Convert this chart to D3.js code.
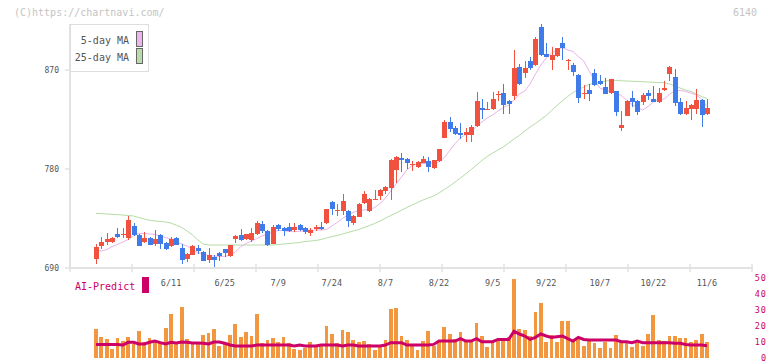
<!DOCTYPE html>
<html>
<head>
<meta charset="utf-8">
<script src="https://cdn.jsdelivr.net/npm/d3@7"></script>
<style>
  body { margin: 0; background: #fff; }
  svg { display: block; }
  text { font-family: 'DejaVu Sans Mono', monospace; }
</style>
</head>
<body>
<div id="chart"></div>
<script>
// daily prices, 115 sessions (5/22 - 11/6)
const open = [
  698.5, 710, 713.6, 714, 720.7, 719.8, 717.3, 728.2, 719.7, 713.6,
  717.3, 711.8, 719.7, 712.7, 710, 717.3, 708.2, 698.2, 702.1, 708.5,
  704.8, 697, 700.3, 703.6, 707.3, 701.1, 716.4, 720, 716, 715.2,
  720.9, 730, 723.6, 711.8, 729, 726.4, 727.3, 724.5, 729, 726.4,
  721.8, 725.5, 727.3, 730.9, 750.3, 742.3, 742.1, 741.8, 731.2, 736.7,
  749.4, 742.1, 752.5, 755.8, 760, 763, 779, 790, 789, 784.3,
  781.8, 785.5, 787.3, 780.9, 787.3, 808.5, 822.7, 817.3, 813, 810.9,
  810.9, 819.1, 835.5, 834.2, 834.5, 848, 849, 841.8, 846.4, 872.7,
  867.3, 878.2, 874.5, 909, 884.5, 879, 882.7, 894.5, 878.8, 874.5,
  865.5, 848.8, 851.8, 867.3, 860, 854.5, 849, 850.9, 817.3, 828.2,
  844.5, 841.8, 840.9, 849, 843.6, 840.9, 851.8, 866.4, 863.6, 840.9,
  830, 834.5, 834.5, 842.7, 830
];
const high = [
  711.8, 717.9, 721.8, 718, 726.4, 726, 737, 731, 721, 722.7,
  718, 724.5, 721, 714, 718, 718, 711.5, 703.6, 710.6, 711,
  705.8, 708.2, 701.8, 704.5, 707.3, 711.1, 720, 725.5, 721, 726,
  732.7, 732.7, 724.5, 729, 730, 727.3, 731, 731, 730, 727.5,
  726.4, 729, 731.8, 743.6, 751.2, 748.2, 757.3, 742.7, 738.2, 749,
  760, 753.6, 760.9, 761.8, 764.5, 789, 791.8, 795, 790, 787.3,
  787.3, 791.8, 791, 788.5, 798.5, 824.5, 827.3, 819, 821.8, 817.5,
  820, 850, 843.6, 841, 850, 850.9, 857.3, 842.7, 888, 875.5,
  878.2, 881.8, 900, 911.8, 894.5, 890.9, 890, 900, 880, 876.4,
  866.4, 856.4, 857.3, 870.9, 865.5, 862.7, 862, 851, 833, 842.7,
  850.9, 842.7, 848.8, 851.8, 855.5, 853.9, 860, 873.6, 870.9, 844.5,
  841.8, 839, 852.7, 843.6, 843.6
];
const low = [
  693.9, 707.3, 711.2, 712.5, 717, 717, 715.7, 719, 710, 712.5,
  710.5, 710, 707.3, 706.5, 709, 710.5, 693.6, 695.5, 701.5, 702.7,
  696.4, 694.8, 691.2, 696.7, 700, 700.3, 712.5, 715, 715.5, 713.6,
  719.7, 721.8, 710, 711.8, 723.6, 719, 722.7, 722.7, 723.6, 721,
  719.5, 723.6, 725, 730, 738.5, 737.3, 738.2, 727.3, 729, 736,
  748.5, 741, 751.8, 751.8, 757.3, 752, 767.5, 777, 780, 778,
  781, 785.2, 777.3, 780, 786.4, 808.5, 814, 811.1, 807.3, 804.8,
  805, 818.2, 825.5, 833.6, 833.6, 841.8, 830, 830, 842.7, 856.4,
  862.7, 870, 873.6, 882.7, 881.8, 870, 881.8, 879, 870, 864.5,
  840, 843.6, 841.8, 855.5, 856.4, 848.2, 848, 828.5, 814.8, 828,
  836.6, 829.4, 838.2, 842.7, 840.9, 840, 850.9, 860, 837.5, 829.1,
  829.1, 824.5, 830, 818.5, 829.1
];
const close = [
  709, 713.6, 716.6, 717.3, 718.2, 720.5, 733.6, 719.7, 710.3, 717.5,
  711.2, 716.4, 711.8, 707.5, 716.6, 711, 697.6, 702.7, 710, 705.8,
  696.7, 701.5, 697.6, 700.9, 703.6, 711.1, 719, 715.5, 720.9, 721.8,
  730.9, 723.6, 711.1, 727.3, 725.5, 723.6, 723.6, 727.3, 724.5, 722.7,
  724.5, 727.3, 725.5, 743.6, 744, 742.9, 750.9, 732.7, 737.3, 748.2,
  757.3, 752.7, 753, 760.9, 763.6, 788.2, 791, 788.2, 785.5, 784.8,
  786.4, 789, 781.8, 788.2, 798.2, 823, 816.7, 812.1, 811.2, 813.6,
  818.2, 841.8, 833.6, 834.8, 843.6, 848.5, 838.5, 839, 871.8, 857.3,
  871.8, 871.8, 898.2, 883.6, 881.8, 883.6, 890, 890, 879.3, 868.2,
  844.5, 849.2, 848.2, 856.4, 857.3, 848.2, 861.8, 831.8, 820, 841.8,
  840.9, 831.8, 847.3, 846.4, 840.9, 849, 853.6, 872.7, 840, 830,
  835.5, 838.2, 842.7, 829.1, 835.5
];

// moving averages as drawn on the chart
const ma5 = [
  706.4, 705.5, 706.8, 709.5, 711.4, 713.6, 715.9, 719.1, 721.4, 721.4,
  720.9, 720.5, 719.1, 717.7, 716.4, 714.1, 711.8, 710, 706.8, 704.1,
  702.7, 701.4, 700.9, 700.5, 700.3, 701.8, 704.5, 709.5, 712.3, 714.5,
  716.8, 719.1, 720.9, 722.7, 724.1, 724.1, 723.2, 723, 723.2, 724.1,
  724.5, 724.5, 724.5, 725, 728.2, 731.4, 735, 738.2, 740.5, 742.3,
  742.7, 743.2, 745, 748.6, 753.6, 760, 766.4, 772.7, 779.1, 783.2,
  784.5, 785, 785.2, 785.5, 786.4, 790.5, 796.8, 803.2, 808.2, 811.4,
  813.6, 819.1, 822.7, 826.4, 829.1, 832.7, 835.9, 838.2, 842.7, 848.2,
  850.9, 857.3, 866.4, 874.5, 880.9, 885.5, 888.2, 890.5, 888.2, 886.8,
  882.3, 878.2, 869.1, 860.9, 853.6, 851.8, 850.3, 849.1, 846.8, 842.7,
  838.6, 835.9, 833.6, 836.8, 840.9, 842.7, 843.6, 847.7, 851.4, 851.4,
  850.5, 849.1, 847.3, 843.6, 836.8
];
const ma25 = [
  739.7, 739.4, 739.1, 738.8, 738.5, 738.2, 737.7, 737.3, 735.9, 734.5,
  733.4, 732.7, 732.3, 731.8, 730.9, 728.8, 726.8, 723.6, 720, 715.5,
  711.8, 710.9, 710.9, 710.9, 710.9, 710.9, 710.9, 710.9, 710.9, 710.9,
  710.9, 710.9, 710.9, 710.9, 711.4, 711.8, 712.3, 712.7, 713.2, 714.1,
  714.5, 715, 715.9, 717.3, 718.5, 719.5, 720.9, 722.3, 723.6, 725,
  726.8, 728.5, 730.5, 732.7, 735.2, 737.7, 740, 742.5, 745, 747.3,
  749.5, 751.8, 753.6, 755.5, 758.2, 761.4, 764.5, 768.2, 771.8, 775.5,
  779.5, 783.6, 787.7, 791.4, 794.5, 797.3, 800, 803.6, 807.3, 810.5,
  814.5, 818.2, 821.4, 825, 828.6, 833.2, 837.7, 841.8, 845.9, 849.5,
  852.3, 854.5, 856.8, 858.2, 859.1, 860, 860.5, 860.5, 860.2, 860,
  859.8, 859.5, 859.4, 859.1, 858.8, 858.6, 858.5, 857.3, 855.5, 853.6,
  851.8, 850.5, 848.2, 845.9, 844.1
];

// lower panel: volume bars and AI-Predict line
const volume = [
  18, 13, 12, 5.6, 12.5, 10.5, 13, 9, 16.9, 10,
  12.5, 10.6, 9.2, 18.8, 27.5, 9.2, 31.9, 11.9, 10, 9.2,
  14.4, 15.6, 18.1, 7.5, 9.2, 14.4, 21.5, 13.1, 16.5, 14,
  27.5, 9.4, 11.25, 12.5, 10, 13.1, 9.4, 5.6, 5, 6.25,
  10, 7.5, 7.5, 20, 15, 9.4, 17.5, 16.25, 11.25, 10,
  10.6, 8.75, 5, 7.5, 11.25, 30.6, 31.25, 13.75, 11.25, 8.75,
  5, 10.6, 16.9, 7.5, 10.6, 19.4, 15, 11.9, 16.25, 10,
  10, 21.9, 13.75, 6.9, 9.4, 10.6, 10.6, 13.1, 49.4, 18.1,
  17.5, 13.75, 28.75, 34.4, 10, 14.4, 10, 23.1, 23.1, 10.6,
  13.1, 7.5, 11.25, 9.4, 6.25, 10, 6.25, 14.4, 9.4, 10,
  6.9, 9.4, 7.5, 15, 26.9, 11.25, 10.6, 13.75, 13.75, 12.5,
  12.5, 10, 11.25, 15, 10
];
const aiPredict = [
  8.5, 8.5, 8.5, 8.5, 8.5, 8.1, 9.8, 9.8, 8.75, 8.75,
  9.8, 10.6, 9.6, 8.75, 9.8, 9.4, 10, 9.8, 9.4, 9.4,
  9.2, 8.75, 10, 10, 9.2, 8.1, 7.5, 7.5, 7.5, 7.5,
  8.1, 8.1, 8.1, 8.1, 8.1, 8.1, 8.1, 7.5, 8.1, 7.5,
  7.5, 7.5, 8.1, 8.1, 8.1, 8.1, 7.5, 8.1, 8.1, 7.5,
  7.5, 7.5, 7.5, 7.5, 8.1, 9.6, 9.6, 9.6, 8.1, 8.1,
  8.1, 8.1, 8.1, 8.5, 10.6, 10.6, 10.6, 10.6, 12.1, 10.6,
  10.6, 12.1, 10.2, 10.2, 10.2, 11.6, 11.6, 11.6, 16.7, 15,
  13.75, 11.6, 12.9, 15, 13.75, 12.9, 13.3, 13.75, 12.1, 10.6,
  12.9, 11.6, 11.25, 11.25, 11.25, 11.25, 11.25, 11.25, 10.2, 10.2,
  9.6, 10.6, 9.6, 9.6, 9.6, 9.6, 9.6, 9.6, 9.2, 9.2,
  8.5, 8.1, 8.1, 8.1, 7.7
];

// axis labels
const dateLabels = ['6/11', '6/25', '7/9', '7/24', '8/7', '8/22', '9/5', '9/22', '10/7', '10/22', '11/6'];
const dateBars = [14, 24, 34, 44, 54, 64, 74, 84, 94, 104, 114];
const priceTicks = [690, 780, 870];
const volTicks = [0, 10, 20, 30, 40, 50];

const RED = '#f0523f', BLUE = '#3f7be9', ORANGE = '#f2963f', CRIMSON = '#cc0066';

const svg = d3.select('#chart').append('svg')
    .attr('width', 772)
    .attr('height', 361);

// scales
const x = d3.scaleLinear().domain([-4.85, 122.4]).range([70, 752]);
const grid = d3.scaleLinear().domain([0, 11]).range([70, 752]);
const y = d3.scaleLinear().domain([690, 870]).range([268, 70]);
const yVol = d3.scaleLinear().domain([0, 50]).range([358, 278]);

const idx = d3.range(close.length);

// header texts
svg.append('text').attr('x', 14).attr('y', 16)
    .attr('font-size', '10px').attr('fill', '#c4c4c4')
    .text('(C)https://chartnavi.com/');
svg.append('text').attr('x', 757).attr('y', 16).attr('text-anchor', 'end')
    .attr('font-size', '10px').attr('fill', '#c4c4c4')
    .text('6140');

// axes
svg.append('line').attr('x1', 70).attr('x2', 70).attr('y1', 24).attr('y2', 269)
    .attr('stroke', '#e2e2e2').attr('stroke-width', 2);
svg.append('line').attr('x1', 69).attr('x2', 753).attr('y1', 268).attr('y2', 268)
    .attr('stroke', '#e2e2e2').attr('stroke-width', 2);
svg.selectAll('.gtick')
    .data(d3.range(12))
  .enter().append('line')
    .attr('x1', d => grid(d)).attr('x2', d => grid(d))
    .attr('y1', 264).attr('y2', 272)
    .attr('stroke', '#e2e2e2').attr('stroke-width', 1.5);

svg.selectAll('.ptick')
    .data(priceTicks)
  .enter().append('line')
    .attr('x1', 65).attr('x2', 71)
    .attr('y1', d => y(d)).attr('y2', d => y(d))
    .attr('stroke', '#e2e2e2').attr('stroke-width', 1.5);
svg.selectAll('.plabel')
    .data(priceTicks)
  .enter().append('text')
    .attr('x', 59).attr('y', d => y(d) + 3)
    .attr('text-anchor', 'end')
    .attr('font-size', '8px').attr('fill', '#555')
    .text(d => d);

svg.selectAll('.dlabel')
    .data(dateLabels)
  .enter().append('text')
    .attr('x', (d, i) => x(dateBars[i]))
    .attr('y', 286)
    .attr('text-anchor', 'middle')
    .attr('font-size', '8.5px').attr('fill', '#555')
    .text(d => d);

// moving averages
const ma25Line = d3.line().x(i => x(i)).y(i => y(ma25[i]));
const ma5Line = d3.line().x(i => x(i)).y(i => y(ma5[i]));
svg.append('path').attr('d', ma25Line(idx))
    .attr('fill', 'none').attr('stroke', '#b5dca5').attr('stroke-width', 1);
svg.append('path').attr('d', ma5Line(idx))
    .attr('fill', 'none').attr('stroke', '#eab2ea').attr('stroke-width', 1);

// candles
const candle = svg.append('g').attr('shape-rendering', 'crispEdges');
candle.selectAll('.wick')
    .data(idx)
  .enter().append('line')
    .attr('x1', i => Math.round(x(i)) + 0.5).attr('x2', i => Math.round(x(i)) + 0.5)
    .attr('y1', i => y(high[i])).attr('y2', i => y(low[i]))
    .attr('stroke', i => close[i] >= open[i] ? RED : BLUE)
    .attr('stroke-width', 1);
candle.selectAll('.body')
    .data(idx)
  .enter().append('rect')
    .attr('x', i => Math.round(x(i)) - 2)
    .attr('width', 5)
    .attr('y', i => y(Math.max(open[i], close[i])))
    .attr('height', i => Math.max(1, Math.abs(y(open[i]) - y(close[i]))))
    .attr('fill', i => close[i] >= open[i] ? RED : BLUE);

// legend
svg.append('rect').attr('x', 70.5).attr('y', 24.5).attr('width', 78).attr('height', 47)
    .attr('fill', '#fff').attr('stroke', '#dedede');
const legend = [['5-day MA', '#ecb6ec', 44], ['25-day MA', '#badcaa', 61]];
legend.forEach(l => {
  svg.append('text').attr('x', 129).attr('y', l[2]).attr('text-anchor', 'end')
      .attr('font-size', '10px').attr('fill', '#555').text(l[0]);
  svg.append('rect').attr('x', 136.5).attr('y', l[2] - 12.5).attr('width', 6).attr('height', 15)
      .attr('fill', l[1]).attr('stroke', '#666');
});

// volume panel
svg.append('g').attr('shape-rendering', 'crispEdges')
  .selectAll('.vol')
    .data(idx)
  .enter().append('rect')
    .attr('x', i => x(i) - 1.9)
    .attr('width', 3.8)
    .attr('y', i => yVol(volume[i]))
    .attr('height', i => yVol(0) - yVol(volume[i]))
    .attr('fill', ORANGE);

const aiLine = d3.line().x(i => x(i)).y(i => yVol(aiPredict[i]));
svg.append('path').attr('d', aiLine(idx))
    .attr('fill', 'none').attr('stroke', CRIMSON).attr('stroke-width', 3);

svg.selectAll('.vlabel')
    .data(volTicks)
  .enter().append('text')
    .attr('x', 767).attr('y', d => yVol(d) + 2.5)
    .attr('text-anchor', 'end')
    .attr('font-size', '8.5px').attr('letter-spacing', '1px').attr('fill', CRIMSON)
    .text(d => d);

svg.append('text').attr('x', 75).attr('y', 290)
    .attr('font-size', '10px').attr('fill', CRIMSON)
    .text('AI-Predict');
svg.append('rect').attr('x', 142).attr('y', 277).attr('width', 7).attr('height', 16)
    .attr('fill', CRIMSON);
</script>
</body>
</html>
